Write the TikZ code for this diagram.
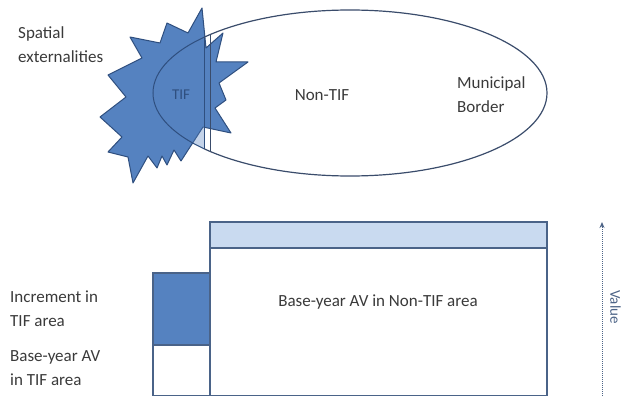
\documentclass[tikz,border=0pt]{standalone}
\usepackage{fontspec}
\setmainfont{Carlito}
\usetikzlibrary{arrows.meta}
\definecolor{starblue}{HTML}{5582C0}
\definecolor{starline}{HTML}{2F4F7F}
\definecolor{lineclr}{HTML}{3A4C6B}
\definecolor{boxline}{HTML}{4A6388}
\definecolor{lightblue}{HTML}{C9DAF0}
\definecolor{txt}{HTML}{3A3A3A}
\definecolor{valueclr}{HTML}{4D6487}
\tikzset{
  lbl/.style={font=\fontsize{17}{24}\selectfont, text=txt, inner sep=0pt, align=left},
  boxstyle/.style={draw=boxline, line width=1.3pt},
}
\begin{document}
\begin{tikzpicture}[x=1pt,y=-1pt]
\useasboundingbox (0,0) rectangle (625,396);
% starburst
\draw[fill=starblue, draw=starline, line width=1pt, line join=round]
 (202,8) -- (206,48) -- (223,33) -- (216,62) -- (248,62) -- (219,83) -- (226,100) -- (215,108) -- (231,133) -- (203,127) -- (181,161) -- (174,150) -- (167,165) -- (162,156) -- (157,168) -- (148,156) -- (133,183) -- (128,157) -- (108,152) -- (122,137) -- (100,117) -- (126,97) -- (108,75) -- (142,58) -- (130,37) -- (160,43) -- (167,23) -- (188,33) -- cycle;
% TIF region
\begin{scope}
  \clip (0,0) rectangle (204,396);
  \fill[starblue, opacity=0.35] (350,93) ellipse [x radius=197, y radius=83];
  \draw[starline, line width=1pt] (350,93) ellipse [x radius=197, y radius=83];
\end{scope}
\draw[starline, line width=1pt] (204,37.3) -- (204,148.7);
% municipal ellipse
\begin{scope}
  \clip (204,0) rectangle (625,200);
  \draw[lineclr, line width=1.2pt] (350,93) ellipse [x radius=197, y radius=83];
\end{scope}
\draw[lineclr, line width=1pt] (210,34.6) -- (210,151.4);
% labels top
\node[lbl, anchor=west] (spatial) at (18,45) {Spatial\\externalities};
\node[font=\fontsize{15}{18}\selectfont, text=starline, inner sep=0pt] (tif) at (181,95) {TIF};
\node[lbl] (nontif) at (322,95) {Non-TIF};
\node[lbl, anchor=west] (border) at (457,95) {Municipal\\Border};
% bottom bars
\draw[boxstyle, fill=white] (210,248) rectangle (547,396);
\draw[boxstyle, fill=lightblue] (210,222) rectangle (547,248);
\draw[boxstyle, fill=starblue] (153,273) rectangle (210,345);
\draw[boxstyle, fill=white] (153,345) rectangle (210,396);
\node[lbl] (nontifav) at (378,302) {Base-year AV in Non-TIF area};
\node[lbl, anchor=west] (incr) at (10,308.5) {Increment in\\TIF area};
\node[lbl, anchor=west] (baseav) at (10,368) {Base-year AV\\in TIF area};
% value axis
\coordinate (vlow) at (602,396);
\coordinate (vhigh) at (602,222);
\draw[valueclr, line width=1pt, dash pattern=on 1pt off 1pt, -{Stealth[length=6pt,width=5pt]}] (vlow) -- (vhigh);
\node[font=\fontsize{15}{18}\selectfont, text=valueclr, rotate=-90, inner sep=0pt] (value) at (615.5,307) {Value};
\end{tikzpicture}
\end{document}
